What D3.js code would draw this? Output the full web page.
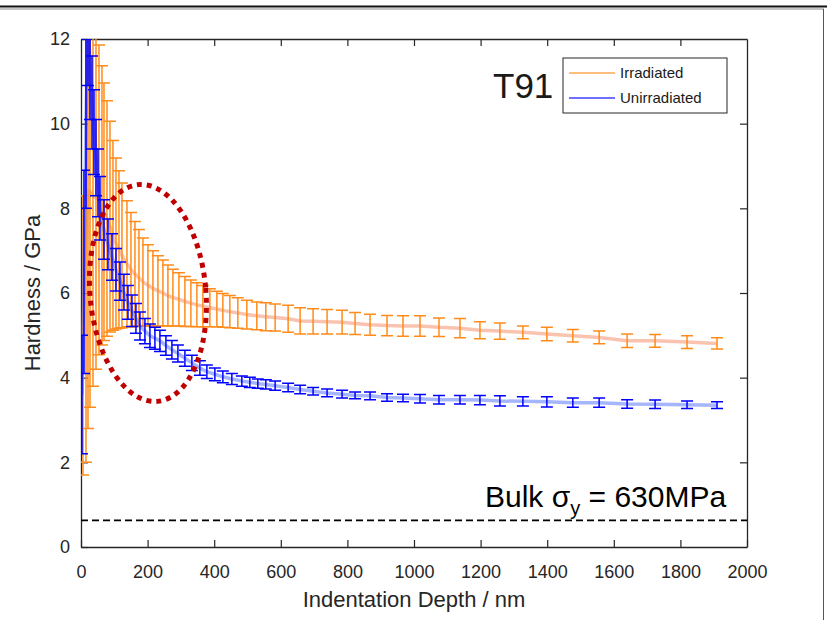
<!DOCTYPE html>
<html>
<head>
<meta charset="utf-8">
<script src="https://cdnjs.cloudflare.com/ajax/libs/d3/7.8.5/d3.min.js"></script>
<style>
  html, body { margin: 0; padding: 0; background: #fff; }
  svg text { font-family: "Liberation Sans", Arial, Helvetica, sans-serif; }
</style>
</head>
<body>
<svg id="chart"></svg>
<script>
// Irradiated T91 - depth (nm), mean hardness (GPa), error half-width (GPa)
const irrDepth = [6, 15, 21, 27, 36, 45, 54, 63, 69, 78, 87, 96, 105, 114, 123, 138, 150, 162, 174, 186,
  201, 216, 231, 246, 261, 276, 294, 312, 330, 348, 366, 387, 408, 426, 447, 471, 498, 528, 555, 583,
  622, 658, 697, 739, 784, 823, 868, 919, 967, 1018, 1075, 1138, 1198, 1258, 1327, 1399, 1477, 1556,
  1640, 1724, 1820, 1910];
const irrMean = [5.0, 7.5, 8.4, 8.4, 8.3, 8.25, 8.2, 8.07, 7.92, 7.76, 7.57, 7.36, 7.17, 7.03, 6.89, 6.69,
  6.55, 6.45, 6.36, 6.26, 6.18, 6.11, 6.05, 6.0, 5.94, 5.89, 5.85, 5.8, 5.76, 5.72, 5.69, 5.65, 5.62,
  5.59, 5.56, 5.53, 5.49, 5.46, 5.44, 5.42, 5.39, 5.34, 5.33, 5.32, 5.31, 5.28, 5.25, 5.23, 5.22, 5.22,
  5.19, 5.17, 5.12, 5.1, 5.07, 5.03, 4.99, 4.95, 4.87, 4.87, 4.84, 4.81];
const irrErr = [3.3, 5.5, 5.6, 5.1, 4.5, 4.05, 3.66, 3.3, 3.04, 2.78, 2.49, 2.24, 2.02, 1.86, 1.71, 1.49,
  1.35, 1.24, 1.14, 1.04, 0.96, 0.89, 0.83, 0.78, 0.72, 0.67, 0.63, 0.59, 0.55, 0.52, 0.49, 0.45, 0.42,
  0.4, 0.38, 0.36, 0.34, 0.33, 0.33, 0.32, 0.32, 0.31, 0.3, 0.29, 0.28, 0.26, 0.25, 0.24, 0.24, 0.24,
  0.22, 0.23, 0.2, 0.19, 0.15, 0.16, 0.15, 0.15, 0.16, 0.15, 0.15, 0.13];

// Unirradiated T91
const unirrDepth = [3, 9, 15, 21, 27, 33, 39, 45, 51, 57, 69, 81, 93, 105, 117, 129, 141, 153, 165, 177,
  192, 207, 222, 237, 255, 273, 291, 312, 333, 357, 378, 402, 426, 453, 483, 507, 531, 555, 583, 622,
  658, 697, 739, 784, 823, 868, 919, 967, 1018, 1075, 1138, 1198, 1258, 1327, 1399, 1477, 1556, 1640,
  1724, 1820, 1910];
const unirrMean = [3.6, 6.5, 10.0, 12.5, 11.4, 10.5, 9.8, 9.2, 8.6, 8.0, 7.5, 7.15, 6.85, 6.55, 6.28, 6.02,
  5.78, 5.58, 5.4, 5.22, 5.1, 4.99, 4.93, 4.87, 4.76, 4.66, 4.57, 4.46, 4.35, 4.23, 4.14, 4.08, 4.02,
  3.97, 3.92, 3.89, 3.86, 3.84, 3.81, 3.77, 3.72, 3.68, 3.64, 3.61, 3.58, 3.57, 3.53, 3.52, 3.5, 3.48,
  3.48, 3.47, 3.45, 3.44, 3.43, 3.41, 3.41, 3.38, 3.37, 3.36, 3.35];
const unirrErr = [1.4, 2.4, 2.0, 1.6, 1.3, 1.1, 1.0, 0.9, 0.8, 0.75, 0.7, 0.6, 0.55, 0.5, 0.45, 0.42, 0.4,
  0.37, 0.35, 0.33, 0.3, 0.28, 0.26, 0.25, 0.23, 0.22, 0.2, 0.19, 0.18, 0.17, 0.16, 0.15, 0.14, 0.13,
  0.12, 0.12, 0.11, 0.11, 0.11, 0.1, 0.1, 0.09, 0.09, 0.09, 0.08, 0.09, 0.09, 0.09, 0.1, 0.1, 0.1,
  0.11, 0.12, 0.11, 0.12, 0.11, 0.11, 0.1, 0.1, 0.09, 0.08];

const xTicks = [0, 200, 400, 600, 800, 1000, 1200, 1400, 1600, 1800, 2000];
const yTicks = [0, 2, 4, 6, 8, 10, 12];
const bulkYield = 0.63; // GPa

// highlighted region (depth nm, hardness GPa)
const ellipseCenter = [201, 6.0];
const ellipseRadius = [174, 2.57];

const width = 827, height = 620;
const margin = { top: 39, right: 80, bottom: 73, left: 81 };
const innerW = width - margin.left - margin.right;
const innerH = height - margin.top - margin.bottom;
const axisColor = "#262626";
const orange = "#ff8c1a";
const blue = "#0000ff";

const svg = d3.select("#chart").attr("width", width).attr("height", height);

// slide frame
svg.append("line").attr("x1", 0).attr("x2", width).attr("y1", 6.5).attr("y2", 6.5)
  .attr("stroke", "#111").attr("stroke-width", 2);
svg.append("line").attr("x1", 0).attr("x2", 824).attr("y1", 9).attr("y2", 9)
  .attr("stroke", "#888").attr("stroke-width", 1);
svg.append("line").attr("x1", 823.5).attr("x2", 823.5).attr("y1", 9).attr("y2", height)
  .attr("stroke", "#555").attr("stroke-width", 1);

const x = d3.scaleLinear().domain([0, 2000]).range([0, innerW]);
const y = d3.scaleLinear().domain([0, 12]).range([innerH, 0]);

const g = svg.append("g").attr("transform", `translate(${margin.left},${margin.top})`);

g.append("defs").append("clipPath").attr("id", "plotClip")
  .append("rect").attr("width", innerW).attr("height", innerH);

// axes, ticks inside on all four sides
const tickLen = 7;
const xAxis = g.append("g").attr("transform", `translate(0,${innerH})`)
  .call(d3.axisBottom(x).tickValues(xTicks).tickFormat(d3.format("d"))
    .tickSizeInner(-tickLen).tickSizeOuter(0).tickPadding(18));
const xAxisTop = g.append("g")
  .call(d3.axisTop(x).tickValues(xTicks).tickSizeInner(-tickLen).tickSizeOuter(0).tickFormat(""));
const yAxis = g.append("g")
  .call(d3.axisLeft(y).tickValues(yTicks).tickSizeInner(-tickLen).tickSizeOuter(0).tickPadding(11));
const yAxisRight = g.append("g").attr("transform", `translate(${innerW},0)`)
  .call(d3.axisRight(y).tickValues(yTicks).tickSizeInner(-tickLen).tickSizeOuter(0).tickFormat(""));

[xAxis, xAxisTop, yAxis, yAxisRight].forEach(a => {
  a.select(".domain").attr("stroke", axisColor).attr("stroke-width", 1.3);
  a.selectAll(".tick line").attr("stroke", axisColor).attr("stroke-width", 1.2);
  a.selectAll(".tick text").attr("fill", axisColor).attr("font-size", 18)
    .attr("font-family", "'Liberation Sans', Arial, sans-serif");
});
// first/last top & right ticks sit on the box
xAxisTop.selectAll(".tick").filter(d => d === 0 || d === 2000).remove();
yAxisRight.selectAll(".tick").filter(d => d === 0 || d === 12).remove();

const plot = g.append("g").attr("clip-path", "url(#plotClip)");

// bulk yield line
plot.append("line")
  .attr("x1", 0).attr("x2", innerW)
  .attr("y1", y(bulkYield)).attr("y2", y(bulkYield))
  .attr("stroke", "#000").attr("stroke-width", 1.6).attr("stroke-dasharray", "7,4");

function drawSeries(depth, mean, err, color, lineColor) {
  const pts = depth.map((d, i) => ({ d, m: mean[i], e: err[i] }));
  const line = d3.line().x(p => x(p.d)).y(p => y(p.m));
  plot.append("path").datum(pts)
    .attr("fill", "none").attr("stroke", lineColor).attr("stroke-opacity", 0.45)
    .attr("stroke-width", 3.5).attr("d", line);

  const cap = 6;
  const bars = plot.append("g").attr("stroke", color).attr("stroke-width", 1.5).attr("fill", "none");
  bars.selectAll("path").data(pts).join("path")
    .attr("d", p => {
      const cx = x(p.d), top = y(p.m + p.e), bot = y(p.m - p.e);
      return `M${cx},${top}V${bot}M${cx - cap},${top}H${cx + cap}M${cx - cap},${bot}H${cx + cap}`;
    });
}

drawSeries(irrDepth, irrMean, irrErr, orange, "#f47a50");
drawSeries(unirrDepth, unirrMean, unirrErr, blue, "#3a5cff");

// dotted ellipse annotation
const ecx = x(ellipseCenter[0]), ecy = y(ellipseCenter[1]);
g.append("ellipse")
  .attr("cx", ecx).attr("cy", ecy)
  .attr("rx", x(ellipseRadius[0]) - x(0))
  .attr("ry", y(0) - y(ellipseRadius[1]))
  .attr("transform", `rotate(-5,${ecx},${ecy})`)
  .attr("fill", "none").attr("stroke", "#c00000")
  .attr("stroke-width", 5).attr("stroke-dasharray", "5,5");

// axis labels
svg.append("text")
  .attr("x", margin.left + innerW / 2).attr("y", 607)
  .attr("text-anchor", "middle").attr("fill", axisColor).attr("font-size", 22)
  .text("Indentation Depth / nm");
svg.append("text")
  .attr("transform", `translate(40,${margin.top + innerH / 2}) rotate(-90)`)
  .attr("text-anchor", "middle").attr("fill", axisColor).attr("font-size", 22)
  .text("Hardness / GPa");

// T91 title
svg.append("text").attr("x", 493).attr("y", 98)
  .attr("fill", "#1a1a1a").attr("font-size", 35).text("T91");

// legend
const legend = svg.append("g").attr("transform", "translate(563,58)");
legend.append("rect").attr("width", 164).attr("height", 55)
  .attr("fill", "#fff").attr("stroke", axisColor).attr("stroke-width", 1);
const legendItems = [["Irradiated", orange], ["Unirradiated", blue]];
legendItems.forEach(([label, color], i) => {
  const ly = 15 + i * 25;
  legend.append("line").attr("x1", 6).attr("x2", 52).attr("y1", ly).attr("y2", ly)
    .attr("stroke", color).attr("stroke-opacity", 0.75).attr("stroke-width", 1.5);
  legend.append("text").attr("x", 57).attr("y", ly + 5)
    .attr("fill", "#1a1a1a").attr("font-size", 15).text(label);
});

// bulk yield annotation
const bulk = svg.append("text").attr("x", 485).attr("y", 507)
  .attr("fill", "#000").attr("font-size", 30);
bulk.append("tspan").text("Bulk σ");
bulk.append("tspan").attr("font-size", 20).attr("dy", 8).text("y");
bulk.append("tspan").attr("dy", -8).text(" = 630MPa");
</script>
</body>
</html>
